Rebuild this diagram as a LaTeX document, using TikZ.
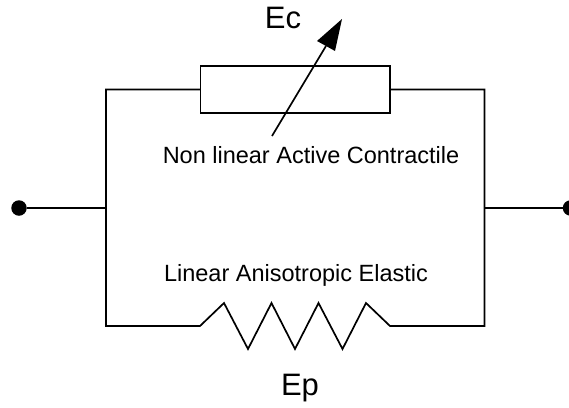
\documentclass[tikz,border=0pt]{standalone}
\usepackage{fontspec}
\setmainfont{Liberation Sans}
\usetikzlibrary{calc}
\tikzset{
  wire/.style={draw=black,line width=1.7pt,line join=miter},
  resbox/.style={draw=black,line width=1.8pt,fill=white,minimum width=189.5pt,minimum height=47pt,inner sep=0pt,outer sep=0pt},
  terminal/.style={circle,fill=black,minimum size=15.5pt,inner sep=0pt,outer sep=0pt},
  biglabel/.style={inner sep=0pt,anchor=base,font=\fontsize{31}{34}\selectfont},
  smalllabel/.style={inner sep=0pt,anchor=base,font=\fontsize{23.5}{26}\selectfont}
}
\begin{document}
\begin{tikzpicture}[x=1pt,y=-1pt]
\useasboundingbox (0,0) rectangle (569,407);
\clip (0,0) rectangle (569,407);
\node[terminal] (tl) at (19,208) {};
\node[terminal] (tr) at (570.5,208) {};
\coordinate (jl) at (106,208);
\coordinate (jr) at (484.5,208);
\node[resbox] (damper) at (295.2,89.5) {};
\coordinate (tll) at (106,89.5);
\coordinate (trr) at (484.5,89.5);
\coordinate (bll) at (106,326);
\coordinate (brr) at (484.5,326);
\draw[wire] (tl) -- (jl);
\draw[wire] (jr) -- (tr);
\draw[wire] (damper.west) -- (tll) -- (bll) -- (200,326) -- (224,303) -- (248,349) -- (271.5,303) -- (295,349) -- (318.5,303) -- (342.5,349) -- (366,303) -- (390,326) -- (brr) -- (trr) -- (damper.east);
\coordinate (as) at (272,136);
\coordinate (ae) at (326,46);
\coordinate (tip) at (342,19);
\draw[wire] (as) -- (ae);
\fill[black] (tip) -- (317,41) -- (335,51) -- cycle;
\node[biglabel] (ec) at (283,28) {Ec};
\node[biglabel] (ep) at (300,395) {Ep};
\node[smalllabel] (nl) at (311,163.5) {Non linear Active Contractile};
\node[smalllabel] (la) at (296,281) {Linear Anisotropic Elastic};
\end{tikzpicture}
\end{document}
